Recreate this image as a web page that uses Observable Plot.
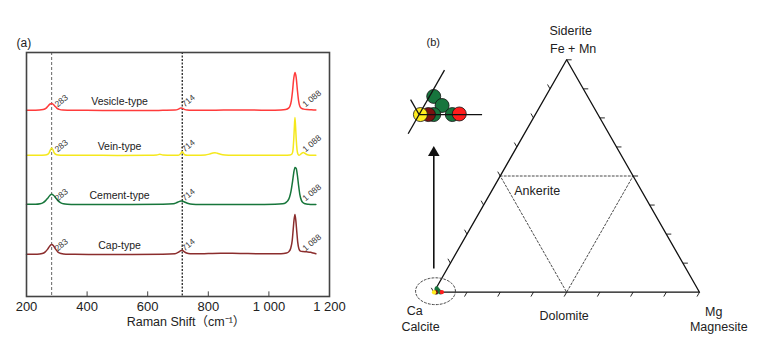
<!DOCTYPE html>
<html><head><meta charset="utf-8">
<script src="https://cdn.jsdelivr.net/npm/d3@7"></script>
<script src="https://cdn.jsdelivr.net/npm/@observablehq/plot@0.6"></script>
<style>
body{margin:0;background:#fff;}
#wrap{position:relative;width:762px;height:341px;overflow:hidden;background:#fff;}
#wrap svg{position:absolute;top:0;}
</style></head><body><div id="wrap"></div>
<script>
// ---------- Panel (a): Raman spectra ----------
const seriesNames = ["Vesicle-type", "Vein-type", "Cement-type", "Cap-type"];
const seriesColors = ["#ff3b3b", "#f5e81c", "#17763b", "#8b2d2d"];
const seriesOffsets = [76.2, 57.8, 37.7, 17.2];

const vesicleShift = [200,230,255,265,272,278,283,288,294,300,308,320,350,400,500,600,650,690,700,706,710,714,718,723,730,745,800,850,900,950,1000,1040,1055,1065,1070,1074,1078,1082,1086,1090,1094,1098,1102,1108,1115,1125,1140,1155];
const vesicleIntensity = [0.1,0.1,0.4,1.0,2.0,2.7,2.9,2.6,1.8,1.0,0.5,0.2,0.1,0.1,0.0,0.0,0.1,0.2,0.5,0.9,1.1,1.0,0.7,0.4,0.2,0.1,0.1,0.2,0.2,0.2,0.1,0.2,0.4,1.0,2.0,4.0,8.0,13.2,15.6,13.6,8.4,4.0,1.8,0.9,0.6,0.4,0.3,0.2];

const veinShift = [200,240,262,270,275,279,283,287,291,296,304,320,400,500,600,630,640,650,680,700,706,710,714,718,722,730,760,790,805,815,822,830,840,855,880,950,1000,1050,1070,1076,1079,1082,1084,1086,1088,1090,1093,1096,1099,1104,1109,1114,1119,1125,1135,1155];
const veinIntensity = [0.1,0.1,0.2,0.5,1.2,2.3,3.1,2.4,1.2,0.5,0.2,0.1,0.1,0.0,0.1,0.2,0.5,0.2,0.1,0.1,0.4,1.0,1.5,0.9,0.3,0.1,0.1,0.2,0.6,1.0,1.1,0.9,0.5,0.2,0.1,0.1,0.1,0.1,0.2,0.6,1.8,6.5,11.5,15.6,12.0,7.0,2.2,0.5,0.1,0.4,1.0,1.2,0.9,0.4,0.1,0.1];

const cementShift = [200,230,245,255,263,270,277,283,289,296,303,312,322,335,360,450,550,650,685,695,703,710,716,724,734,748,770,850,950,1020,1045,1055,1062,1068,1073,1078,1082,1086,1090,1094,1098,1102,1107,1112,1120,1130,1145,1155];
const cementIntensity = [0.1,0.1,0.3,0.8,1.6,2.6,3.7,4.2,3.8,2.8,1.7,0.8,0.3,0.1,0.0,0.0,0.0,0.1,0.3,0.7,1.2,1.4,1.3,0.9,0.4,0.1,0.0,0.0,0.0,0.1,0.3,0.7,1.5,3.0,5.5,9.4,13.0,15.2,14.8,12.0,7.8,4.2,1.8,0.8,0.3,0.1,0.0,0.0];

const capShift = [200,235,252,262,270,277,283,289,296,304,314,330,360,450,550,650,690,702,708,714,720,728,740,760,800,840,880,920,980,1040,1058,1066,1072,1077,1080,1083,1086,1089,1092,1095,1099,1104,1112,1125,1138,1146,1155];
const capIntensity = [0.1,0.1,0.4,1.1,2.2,3.5,4.1,3.6,2.2,1.0,0.4,0.1,0.1,0.0,0.0,0.1,0.3,1.0,1.5,1.8,1.2,0.6,0.3,0.3,0.4,0.5,0.5,0.4,0.3,0.3,0.6,1.2,2.6,5.8,10.0,14.2,16.4,13.8,9.4,5.2,2.4,1.4,1.2,1.1,0.9,0.6,0.3];

const xTicks = [200, 400, 600, 800, 1000, 1200];
const xTickLabels = ["200", "400", "600", "800", "1 000", "1 200"];
const peakShifts = [283, 714, 1086];
const peakLabels = ["283", "714", "1 088"];
const peakLabelDx = [6, 2.5, 10.5];

// ---------- Panel (b): ternary carbonate diagram ----------
const sampleTypes = ["Cement-type","Cement-type","Cement-type","Cement-type","Cap-type","Vein-type","Vesicle-type"];
const sampleMg = [0.32, 1.34, 1.1, 2.5, 0.7, 0.1, 3.0];   // mol %
const sampleFe = [1.56, 0.78, 0.0, 0.0, 0.0, 0.0, 0.05];  // Fe + Mn mol %
const dotColors = ["#ff1c1c", "#ffec1e", "#17753d", "#7a1010"];

const outlineMg = [0, 100, 0, 0];
const outlineFe = [0, 0, 100, 0];
const ankeriteMg = [0, 50, 50, 0];
const ankeriteFe = [50, 50, 0, 50];

const font = "'Liberation Sans', Arial, Helvetica, 'Noto Sans CJK SC', sans-serif";
const H = Math.sqrt(3) / 2;
const tern = (mg, fe) => ({x: (mg + fe / 2) / 100, y: fe / 100 * H});

const spectra = [[vesicleShift, vesicleIntensity], [veinShift, veinIntensity], [cementShift, cementIntensity], [capShift, capIntensity]];
const rows = spectra.flatMap(([xs, ys], i) => xs.map((x, j) => ({series: seriesNames[i], shift: x, intensity: ys[j] + seriesOffsets[i]})));
const peakRows = seriesNames.flatMap((s, i) => peakShifts.map((p, k) => ({series: s, shift: p, base: seriesOffsets[i], label: peakLabels[k], dx: peakLabelDx[k]})));

const left = Plot.plot({
  width: 380, height: 341,
  marginLeft: 26, marginRight: 51, marginTop: 52, marginBottom: 45,
  style: {fontFamily: font, background: "transparent", overflow: "visible", color: "#222"},
  x: {domain: [200, 1200]},
  y: {domain: [0, 100], axis: null},
  color: {domain: seriesNames, range: seriesColors},
  marks: [
    Plot.ruleX([283], {stroke: "#555", strokeWidth: 0.9, strokeDasharray: "3,2"}),
    Plot.ruleX([714], {stroke: "#111", strokeWidth: 1.2, strokeDasharray: "2,1.5"}),
    Plot.ruleX(xTicks.slice(1, -1), {y1: 0, y2: 1.9, stroke: "#444", strokeWidth: 1}),
    Plot.line(rows, {x: "shift", y: "intensity", z: "series", stroke: "series", strokeWidth: 1.5, curve: "monotone-x"}),
    Plot.text(seriesNames, {x: () => 507, y: (d, i) => seriesOffsets[i], dy: -9, fontSize: 10.5, fill: "#222"}),
    ...[0, 1, 2].map(k => Plot.text(peakRows.filter(r => r.label === peakLabels[k]), {
      x: "shift", y: "base", text: "label", dx: peakLabelDx[k], dy: -3,
      rotate: -40, textAnchor: "start", lineAnchor: "bottom", fontSize: 8.5, fill: "#333"
    })),
    Plot.frame({stroke: "#444", strokeWidth: 1.6}),
    Plot.axisX({ticks: xTicks, tickSize: 0, tickPadding: 5, fontSize: 13, label: null,
      tickFormat: d => xTickLabels[xTicks.indexOf(d)]}),
    Plot.text(["Raman Shift（cm⁻¹）"], {frameAnchor: "bottom", dx: 8, dy: 29, fontSize: 12.5, fill: "#222"}),
    Plot.text(["(a)"], {frameAnchor: "top-left", textAnchor: "start", dx: -10, dy: -14, fontSize: 12, fill: "#222"})
  ]
});

// ternary geometry
const outline = outlineMg.map((m, i) => tern(m, outlineFe[i]));
const ankerite = ankeriteMg.map((m, i) => tern(m, ankeriteFe[i]));
const tl = 0.0188;
const tickRows = [];
for (let k = 1; k <= 8; k++) {
  const f = k / 8;
  // bottom side (Ca -> Mg), ticks down-left
  tickRows.push({x1: f, y1: 0, x2: f - 0.5 * tl, y2: -H * tl});
  // right side (Mg -> Fe), ticks to the right
  tickRows.push({x1: 1 - f / 2, y1: f * H, x2: 1 - f / 2 + tl, y2: f * H});
  // left side (Fe -> Ca), ticks up-left
  tickRows.push({x1: 0.5 - f / 2, y1: H - f * H, x2: 0.5 - f / 2 - 0.5 * tl, y2: H - f * H + H * tl});
}
const samples = sampleTypes.map((t, i) => ({type: t, ...tern(sampleMg[i], sampleFe[i])}));
const inset = {x: -0.0553, y: 0.662, m: 5};
const insetSamples = samples.map(d => ({type: d.type, x: inset.x + inset.m * d.x, y: inset.y + inset.m * d.y}));
const insetAxes = [
  {x1: inset.x, y1: inset.y, x2: inset.x + 0.237, y2: inset.y},
  {x1: inset.x - 0.0824 * 0.5, y1: inset.y - 0.0824 * H, x2: inset.x + 0.191 * 0.5, y2: inset.y + 0.191 * H},
  {x1: inset.x, y1: inset.y, x2: inset.x - 0.064 * 0.5, y2: inset.y + 0.064 * H}
];
const ell = {cx: 0.0064, cy: 0.0037, rx: 0.075, ry: 0.05};
const ellipse = d3.range(0, 361, 6).map(a => ({x: ell.cx + ell.rx * Math.cos(a * Math.PI / 180), y: ell.cy + ell.ry * Math.sin(a * Math.PI / 180)}));

const lbl = (t, x, y, dx, dy, extra = {}) => Plot.text([t], {x: () => x, y: () => y, dx, dy, fontSize: 12.5, fill: "#222", ...extra});

const right = Plot.plot({
  width: 382, height: 341,
  marginLeft: 53.3, marginRight: 63, marginTop: 59.3, marginBottom: 49.3,
  style: {fontFamily: font, background: "transparent", overflow: "visible", color: "#222"},
  x: {domain: [0, 1], axis: null},
  y: {domain: [0, H], axis: null},
  color: {domain: seriesNames, range: dotColors},
  marks: [
    Plot.line(ankerite, {x: "x", y: "y", stroke: "#333", strokeWidth: 0.9, strokeDasharray: "2,2"}),
    Plot.line(outline, {x: "x", y: "y", stroke: "#111", strokeWidth: 1.3}),
    Plot.link(tickRows, {x1: "x1", y1: "y1", x2: "x2", y2: "y2", stroke: "#111", strokeWidth: 0.9}),
    Plot.line(ellipse, {x: "x", y: "y", stroke: "#444", strokeWidth: 1, strokeDasharray: "2,2"}),
    Plot.link([0], {x1: 0, y1: 0.088, x2: 0, y2: 0.512, stroke: "#111", strokeWidth: 1.6}),
    Plot.dot([0], {x: 0, y: 0.52, symbol: "triangle", r: 4.3, fill: "#111", stroke: "none"}),
    Plot.dot(samples, {x: "x", y: "y", r: 2.2, fill: "type", stroke: "none"}),
    Plot.dot(insetSamples, {x: "x", y: "y", r: 7, fill: "type", stroke: "#111", strokeWidth: 0.8}),
    Plot.link(insetAxes, {x1: "x1", y1: "y1", x2: "x2", y2: "y2", stroke: "#111", strokeWidth: 1.3}),
    lbl("Siderite", 0.5, H, 4, -29.3),
    lbl("Fe + Mn", 0.5, H, 6.5, -11),
    lbl("Ca", 0, 0, -19, 18.3),
    lbl("Calcite", 0, 0, -13.3, 34.3),
    lbl("Mg", 1, 0, 14.3, 19.3),
    lbl("Magnesite", 1, 0, 19.3, 34.3),
    lbl("Dolomite", 0.5, 0, -2.5, 23.3),
    lbl("Ankerite", 0.389, 0.376, 0, 0),
    Plot.text(["(b)"], {frameAnchor: "top-left", dx: -7.3, dy: -21.8, fontSize: 11, fill: "#222"})
  ]
});

const wrap = document.getElementById("wrap");
left.style.left = "0px";
right.style.left = "380px";
wrap.appendChild(left);
wrap.appendChild(right);
</script></body></html>
